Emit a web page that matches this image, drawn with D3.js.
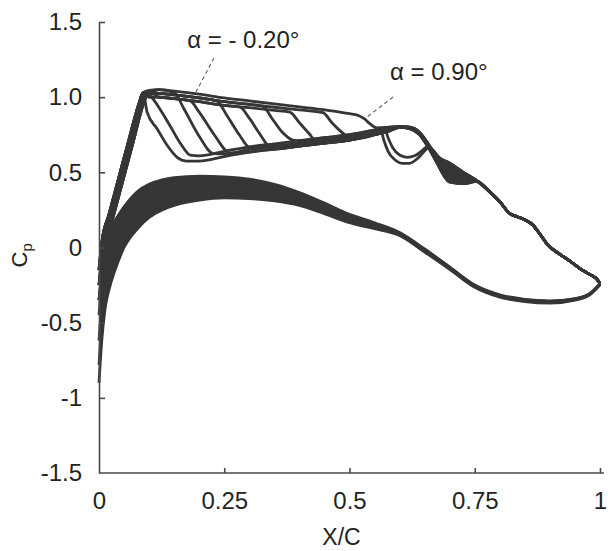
<!DOCTYPE html>
<html>
<head>
<meta charset="utf-8">
<script src="https://cdn.jsdelivr.net/npm/d3@7/dist/d3.min.js"></script>
<style>
  html, body { margin: 0; padding: 0; background: #ffffff; }
  svg { display: block; }
  text { font-family: "Liberation Sans", Arial, sans-serif; fill: #232323; }
</style>
</head>
<body>
<div id="chart"></div>
<script>
// ---------------- DATA ----------------
const xTicks = [0, 0.25, 0.5, 0.75, 1];
const xTickLabels = ["0", "0.25", "0.5", "0.75", "1"];
const yTicks = [1.5, 1.0, 0.5, 0, -0.5, -1, -1.5];
const yTickLabels = ["1.5", "1.0", "0.5", "0", "-0.5", "-1", "-1.5"];

// Lower-surface family (x/c grid shared)
const lowerX = [0, 0.006, 0.012, 0.02, 0.032, 0.05, 0.078, 0.1, 0.126, 0.15, 0.2, 0.25, 0.3, 0.35, 0.4, 0.45, 0.5, 0.55, 0.6, 0.65, 0.7, 0.75, 0.8, 0.85, 0.9, 0.95, 0.98, 1.0];
const lower1 = [-0.25, -0.05, 0.06, 0.12, 0.18, 0.27, 0.375, 0.42, 0.45, 0.465, 0.475, 0.47, 0.455, 0.42, 0.365, 0.295, 0.22, 0.165, 0.1, -0.01, -0.13, -0.25, -0.315, -0.345, -0.355, -0.34, -0.305, -0.24];
const lower2 = [-0.45, -0.2, -0.05, 0.05, 0.12, 0.21, 0.32, 0.37, 0.405, 0.425, 0.445, 0.445, 0.43, 0.4, 0.35, 0.28, 0.205, 0.155, 0.095, -0.015, -0.133, -0.253, -0.318, -0.348, -0.358, -0.342, -0.307, -0.242];
const lower3 = [-0.62, -0.35, -0.18, -0.06, 0.03, 0.13, 0.25, 0.31, 0.355, 0.38, 0.41, 0.415, 0.405, 0.38, 0.335, 0.265, 0.19, 0.145, 0.09, -0.02, -0.136, -0.256, -0.321, -0.351, -0.361, -0.344, -0.309, -0.244];
const lower4 = [-0.78, -0.48, -0.3, -0.17, -0.06, 0.06, 0.18, 0.25, 0.3, 0.33, 0.36, 0.37, 0.365, 0.345, 0.305, 0.245, 0.175, 0.135, 0.085, -0.025, -0.14, -0.26, -0.325, -0.355, -0.365, -0.347, -0.311, -0.246];
const lower5 = [-0.9, -0.6, -0.41, -0.28, -0.15, 0.0, 0.13, 0.2, 0.25, 0.28, 0.315, 0.33, 0.325, 0.31, 0.28, 0.225, 0.165, 0.125, 0.08, -0.03, -0.145, -0.265, -0.33, -0.36, -0.37, -0.35, -0.313, -0.248];

// Upper-surface family pieces, [x/c, Cp]
const riseA = [[0, -0.15], [0.006, 0.04], [0.02, 0.22], [0.04, 0.47], [0.06, 0.72], [0.08, 0.96], [0.088, 1.03]];
const riseB = [[0, -0.25], [0.01, 0.03], [0.025, 0.2], [0.045, 0.45], [0.065, 0.7], [0.085, 0.95], [0.095, 1.035]];
const riseC = [[0, -0.35], [0.013, 0.02], [0.028, 0.2], [0.048, 0.45], [0.068, 0.7], [0.088, 0.95], [0.1, 1.04]];

const topEnvA = [[0.1, 1.045], [0.12, 1.05], [0.15, 1.04], [0.2, 1.02], [0.25, 0.995], [0.3, 0.975], [0.35, 0.955], [0.4, 0.935], [0.45, 0.915], [0.5, 0.89], [0.52, 0.875]];
const topEnvM = [[0.1, 1.022], [0.12, 1.025], [0.15, 1.015], [0.2, 0.995], [0.25, 0.97], [0.3, 0.952], [0.35, 0.933], [0.4, 0.915], [0.45, 0.896], [0.5, 0.872]];
const topEnvB = [[0.1, 1.0], [0.12, 1.0], [0.15, 0.99], [0.2, 0.97], [0.25, 0.945], [0.3, 0.93], [0.35, 0.912], [0.4, 0.895], [0.45, 0.876], [0.5, 0.855]];

const botBandA = [[0.15, 0.6], [0.2, 0.61], [0.25, 0.64], [0.3, 0.67], [0.35, 0.69], [0.4, 0.71], [0.45, 0.73], [0.5, 0.75], [0.55, 0.78], [0.58, 0.8]];
const botBandM = [[0.15, 0.583], [0.2, 0.592], [0.25, 0.622], [0.3, 0.652], [0.35, 0.672], [0.4, 0.692], [0.45, 0.712], [0.5, 0.732], [0.55, 0.765], [0.58, 0.788]];
const botBandB = [[0.15, 0.565], [0.2, 0.575], [0.25, 0.605], [0.3, 0.635], [0.35, 0.655], [0.4, 0.675], [0.45, 0.695], [0.5, 0.715], [0.55, 0.75], [0.58, 0.775]];

const tailS = [[0.6, 0.805], [0.62, 0.8], [0.64, 0.765], [0.655, 0.7], [0.67, 0.625], [0.68, 0.595], [0.7, 0.56], [0.727, 0.5], [0.754, 0.445]];
const tailM = [[0.6, 0.8], [0.62, 0.795], [0.64, 0.757], [0.657, 0.675], [0.672, 0.6], [0.685, 0.54], [0.7, 0.5], [0.727, 0.46], [0.754, 0.442]];
const tailD = [[0.6, 0.8], [0.62, 0.79], [0.64, 0.75], [0.66, 0.65], [0.675, 0.56], [0.69, 0.47], [0.7, 0.435], [0.73, 0.425], [0.754, 0.44]];
const tailL = [[0.562, 0.79], [0.568, 0.72], [0.577, 0.64], [0.59, 0.585], [0.605, 0.56], [0.62, 0.56], [0.635, 0.59], [0.648, 0.635], [0.658, 0.665], [0.668, 0.64], [0.68, 0.59], [0.69, 0.54], [0.71, 0.49], [0.73, 0.46], [0.754, 0.443]];
const tailL2 = [[0.57, 0.79], [0.577, 0.73], [0.587, 0.66], [0.6, 0.615], [0.615, 0.6], [0.63, 0.61], [0.645, 0.645], [0.657, 0.675], [0.667, 0.645], [0.68, 0.59], [0.7, 0.52], [0.73, 0.47], [0.754, 0.443]];
const commonTail = [[0.78, 0.37], [0.8, 0.305], [0.82, 0.225], [0.835, 0.205], [0.85, 0.185], [0.866, 0.15], [0.88, 0.09], [0.895, 0.02], [0.92, -0.045], [0.94, -0.09], [0.96, -0.14], [0.98, -0.18], [0.995, -0.215], [1.0, -0.24]];

// Dark merged region where the upper curves spread (x/c 0.655 - 0.754)
const blobX = [0.655, 0.67, 0.685, 0.7, 0.715, 0.73, 0.745, 0.754];
const blobTop = [0.7, 0.625, 0.58, 0.555, 0.525, 0.495, 0.46, 0.445];
const blobBot = [0.69, 0.58, 0.49, 0.435, 0.425, 0.425, 0.432, 0.44];

// Per-curve shock (drop) points
const drop1 = [[0.096, 0.9], [0.116, 0.79], [0.136, 0.68], [0.156, 0.6], [0.175, 0.575]];
const drop2 = [[0.105, 1.0], [0.116, 0.95], [0.14, 0.82], [0.165, 0.68], [0.182, 0.615]];
const drop3 = [[0.15, 1.03], [0.17, 0.92], [0.2, 0.74], [0.228, 0.625]];
const drop4 = [[0.182, 0.975], [0.2, 0.9], [0.23, 0.75], [0.261, 0.63]];
const drop5 = [[0.235, 0.975], [0.255, 0.88], [0.28, 0.75], [0.301, 0.665]];
const drop6 = [[0.281, 0.935], [0.3, 0.86], [0.32, 0.76], [0.341, 0.665]];
const drop7 = [[0.327, 0.94], [0.345, 0.86], [0.365, 0.77], [0.387, 0.715]];
const drop8 = [[0.381, 0.9], [0.4, 0.83], [0.42, 0.755], [0.435, 0.7]];
const drop9 = [[0.447, 0.897], [0.465, 0.83], [0.48, 0.78], [0.495, 0.74]];
const drop10 = [[0.53, 0.855], [0.54, 0.825], [0.555, 0.795]];

const alphaLabels = ["\u03b1 = - 0.20\u00b0", "\u03b1 = 0.90\u00b0"];

// ---------------- CHART ----------------
const W = 608, H = 551;
const svg = d3.select("#chart").append("svg").attr("width", W).attr("height", H);
svg.append("rect").attr("width", W).attr("height", H).attr("fill", "#ffffff");

const x = d3.scaleLinear().domain([0, 1]).range([99, 600]);
const y = d3.scaleLinear().domain([-1.5, 1.5]).range([473, 22]);

const ink = "#363636";
const line = d3.line().x(d => x(d[0])).y(d => y(d[1])).curve(d3.curveMonotoneX);

// Build upper curves from pieces
function build(rise, te, teEnd, drop, bb, tail) {
  const riseEnd = rise[rise.length - 1][0];
  const dropStart = drop[0][0];
  const dropEnd = drop[drop.length - 1][0];
  const tailStart = tail[0][0];
  const pts = [];
  rise.forEach(p => pts.push(p));
  if (te) te.filter(p => p[0] > riseEnd && p[0] < dropStart && p[0] <= teEnd).forEach(p => pts.push(p));
  drop.forEach(p => pts.push(p));
  bb.filter(p => p[0] > dropEnd + 0.004 && p[0] < tailStart - 0.004).forEach(p => pts.push(p));
  tail.forEach(p => pts.push(p));
  commonTail.forEach(p => pts.push(p));
  return pts;
}

const upperCurves = [
  build(riseA, null, 0, drop1, botBandB, tailL),
  build(riseB, null, 0, drop2, botBandA, tailL2),
  build(riseC, topEnvA, 0.15, drop3, botBandM, tailD),
  build(riseA, topEnvB, 0.182, drop4, botBandB, tailM),
  build(riseB, topEnvM, 0.235, drop5, botBandM, tailD),
  build(riseC, topEnvB, 0.281, drop6, botBandB, tailM),
  build(riseA, topEnvM, 0.327, drop7, botBandA, tailS),
  build(riseB, topEnvB, 0.381, drop8, botBandB, tailM),
  build(riseC, topEnvM, 0.447, drop9, botBandM, tailS),
  build(riseA, topEnvA, 0.52, drop10, botBandA, tailS)
];

const lowerSeries = [lower1, lower2, lower3, lower4, lower5];
const lowerCurves = lowerSeries.map(s => lowerX.map((xv, i) => [xv, s[i]]));

// Filled regions where many curves overlap
function bandArea(xs, lo, hi) {
  return d3.area()
    .x((d, i) => x(xs[i]))
    .y0((d, i) => y(lo[i]))
    .y1((d, i) => y(hi[i]))
    .curve(d3.curveMonotoneX)(xs);
}
svg.append("path").attr("d", bandArea(lowerX, lower5, lower1)).attr("fill", ink);
svg.append("path").attr("d", bandArea(blobX, blobBot, blobTop)).attr("fill", ink);
// rising leg (polygon between outer rise curves)
const risePoly = riseA.concat(riseC.slice().reverse());
svg.append("path")
  .attr("d", d3.line().x(d => x(d[0])).y(d => y(d[1])).curve(d3.curveLinearClosed)(risePoly))
  .attr("fill", ink);

const gCurves = svg.append("g");
gCurves.selectAll("path.lower").data(lowerCurves).join("path")
  .attr("class", "lower")
  .attr("d", line).attr("fill", "none").attr("stroke", ink)
  .attr("stroke-width", 2.8).attr("stroke-linejoin", "round");

gCurves.selectAll("path.upper").data(upperCurves).join("path")
  .attr("class", "upper")
  .attr("d", line).attr("fill", "none").attr("stroke", ink)
  .attr("stroke-width", 2.8).attr("stroke-linejoin", "round");

// Axes
const axisColor = "#4a4a4a";
const gy = svg.append("g").attr("transform", `translate(${x(0)},0)`)
  .call(d3.axisLeft(y).tickValues(yTicks).tickFormat((d, i) => yTickLabels[i])
    .tickSizeInner(-6).tickSizeOuter(0).tickPadding(17));
const gx = svg.append("g").attr("transform", `translate(0,${y(-1.5)})`)
  .call(d3.axisBottom(x).tickValues(xTicks).tickFormat((d, i) => xTickLabels[i])
    .tickSizeInner(-5).tickSizeOuter(0).tickPadding(19));
[gx, gy].forEach(g => {
  g.select(".domain").attr("stroke", axisColor).attr("stroke-width", 1.6);
  g.selectAll(".tick line").attr("stroke", axisColor).attr("stroke-width", 1.6);
  g.selectAll(".tick text").attr("font-size", 24).attr("fill", "#222")
    .style("font-family", "'Liberation Sans', Arial, sans-serif");
});
gy.selectAll(".tick").filter(d => d === -1.5).select("line").remove();
gx.selectAll(".tick").filter(d => d === 0).select("line").remove();
// x axis line runs slightly past x/c = 1 in the reference
gx.select(".domain").attr("d", `M${x(0)},0H${x(1) + 4}`);

// Axis titles
svg.append("text").attr("x", (x(0) + x(1)) / 2 - 8).attr("y", 545)
  .attr("text-anchor", "middle").attr("font-size", 23).text("X/C");

const cp = svg.append("text")
  .attr("transform", `translate(27, ${y(0) + 20}) rotate(-90)`)
  .attr("font-size", 22);
cp.append("tspan").text("C");
cp.append("tspan").attr("font-size", 15).attr("dy", 5).text("p");

// Annotations (positions in data units)
const annotations = [
  { text: alphaLabels[0], tx: 0.176, ty: 1.327, from: [0.2295, 1.261], to: [0.1936, 1.035] },
  { text: alphaLabels[1], tx: 0.581, ty: 1.114, from: [0.587, 1.001], to: [0.535, 0.868] }
];
annotations.forEach(a => {
  svg.append("text").attr("x", x(a.tx)).attr("y", y(a.ty)).attr("font-size", 24).text(a.text);
  svg.append("line")
    .attr("x1", x(a.from[0])).attr("y1", y(a.from[1]))
    .attr("x2", x(a.to[0])).attr("y2", y(a.to[1]))
    .attr("stroke", "#6a6a6a").attr("stroke-width", 1.2).attr("stroke-dasharray", "4,3");
});
</script>
</body>
</html>
